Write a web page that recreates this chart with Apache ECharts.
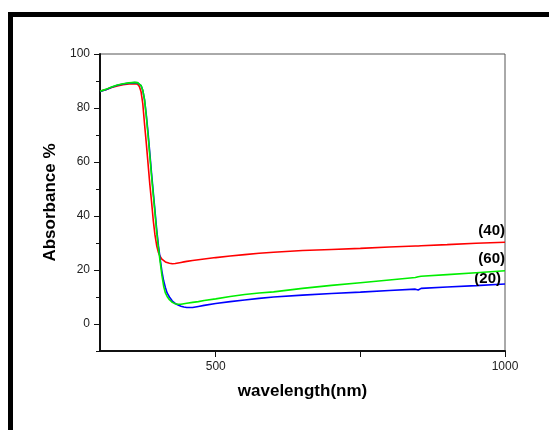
<!DOCTYPE html>
<html>
<head>
<meta charset="utf-8">
<script src="https://cdn.jsdelivr.net/npm/echarts@6/dist/echarts.min.js"></script>
<style>
html,body{margin:0;padding:0;background:#fff;}
#chart{width:549px;height:430px;}
</style>
</head>
<body>
<div id="chart"></div>
<script>
// wavelength grid (nm)
var wavelength = [300,310,320,330,340,350,360,365,368,371,374,377,380,383,386,389,392,395,398,401,404,407,410,413,416,420,425,430,435,440,445,450,460,470,480,500,525,550,575,600,650,700,750,800,845,850,855,900,950,1000];
// Absorbance % for each sample
var abs40 = [86.2,86.8,87.6,88.2,88.6,88.9,89.0,88.8,88.0,86.0,81.5,74,67,59.5,52,45.5,38.5,33,29,26.5,25,24,23.5,23,22.8,22.5,22.3,22.4,22.6,22.8,23.0,23.2,23.5,23.8,24.1,24.6,25.2,25.7,26.2,26.6,27.2,27.6,28.0,28.5,28.9,28.9,29.0,29.4,29.9,30.3];
var abs60 = [86.2,86.9,87.8,88.5,89.0,89.3,89.5,89.4,89.1,88.3,86.5,83,77,70,62.5,55,48,41,34,28,23,18,14,11.5,10.2,9.0,8.0,7.5,7.3,7.3,7.5,7.7,8.0,8.3,8.7,9.3,10.2,10.9,11.5,11.9,13.2,14.3,15.3,16.3,17.2,17.5,17.7,18.3,19.0,19.7];
var abs20 = [86.1,86.8,87.7,88.4,88.9,89.2,89.4,89.3,89.0,88.3,86.5,83,77.5,71,63.5,56,49,42,35,29,24,19.5,16,13.5,11.5,10,8.5,7.6,7.0,6.6,6.3,6.1,6.1,6.5,6.9,7.6,8.3,8.9,9.5,10.0,10.7,11.3,11.8,12.4,12.9,12.6,13.2,13.7,14.2,14.8];
var seriesNames = ['(40)','(20)','(60)'];
var seriesColors = ['#ff0000','#0000ff','#00ee00'];
var xLabelValues = [500,1000];
var xTickValues = [500,750,1000];
var yLabelValues = [0,20,40,60,80,100];

function pairs(ys){ return wavelength.map(function(x,i){ return [x, ys[i]]; }); }

var FONT = 'Liberation Sans, Arial, Helvetica, sans-serif';
var allData = [abs40, abs20, abs60];
var labelOffsets = [[0,-11],[-4,-5],[0,-12]];

var series = allData.map(function(ys, k){
  return {
    name: seriesNames[k],
    type: 'line',
    data: pairs(ys),
    showSymbol: false,
    symbol: 'none',
    smooth: false,
    lineStyle: {color: seriesColors[k], width: 1.6},
    itemStyle: {color: seriesColors[k]},
    z: 3 + k,
    markPoint: {
      symbol: 'circle',
      symbolSize: 0,
      silent: true,
      data: [{coord: [wavelength[wavelength.length-1], ys[ys.length-1]]}],
      label: {
        show: true,
        position: 'left',
        distance: 0,
        offset: labelOffsets[k],
        formatter: seriesNames[k],
        color: '#000',
        fontFamily: FONT,
        fontWeight: 'bold',
        fontSize: 15
      }
    }
  };
});

var chart = echarts.init(document.getElementById('chart'), null, {renderer: 'canvas'});
chart.setOption({
  backgroundColor: '#fff',
  animation: false,
  graphic: [
    {type: 'rect', shape: {x: 8, y: 12, width: 541, height: 5}, style: {fill: '#000'}},
    {type: 'rect', shape: {x: 8, y: 12, width: 5, height: 418}, style: {fill: '#000'}}
  ],
  grid: {left: 100, right: 44, top: 54, bottom: 79, show: true, borderColor: '#555', borderWidth: 1, backgroundColor: 'transparent'},
  xAxis: [{
    type: 'value', min: 300, max: 1000, interval: 50,
    name: 'wavelength(nm)', nameLocation: 'middle', nameGap: 32,
    nameTextStyle: {fontFamily: FONT, fontWeight: 'bold', fontSize: 17, color: '#000'},
    axisLine: {show: true, onZero: false, lineStyle: {color: '#111', width: 2}},
    axisTick: {show: true, inside: false, length: 6, customValues: xTickValues, lineStyle: {color: '#111', width: 1}},
    axisLabel: {show: true, customValues: xLabelValues, margin: 10, fontFamily: FONT, fontSize: 12, color: '#222',
      formatter: function(v){ return String(v); }},
    splitLine: {show: false}
  }],
  yAxis: [{
    type: 'value', min: -10, max: 100, interval: 10,
    name: 'Absorbance %', nameLocation: 'middle', nameGap: 37, nameRotate: 90,
    nameTextStyle: {fontFamily: FONT, fontWeight: 'bold', fontSize: 17, color: '#000'},
    axisLine: {show: true, onZero: false, lineStyle: {color: '#111', width: 2}},
    axisTick: {show: true, inside: false, length: 6, customValues: yLabelValues, lineStyle: {color: '#111', width: 1}},
    axisLabel: {show: true, customValues: yLabelValues, margin: 10, fontFamily: FONT, fontSize: 12, color: '#222',
      formatter: function(v){ return String(v); }},
    splitLine: {show: false}
  }, {
    type: 'value', min: -10, max: 100, interval: 10, position: 'left',
    axisLine: {show: false},
    axisTick: {show: true, inside: false, length: 4, lineStyle: {color: '#111', width: 1}},
    axisLabel: {show: false},
    splitLine: {show: false}
  }],
  series: series
});
</script>
</body>
</html>
